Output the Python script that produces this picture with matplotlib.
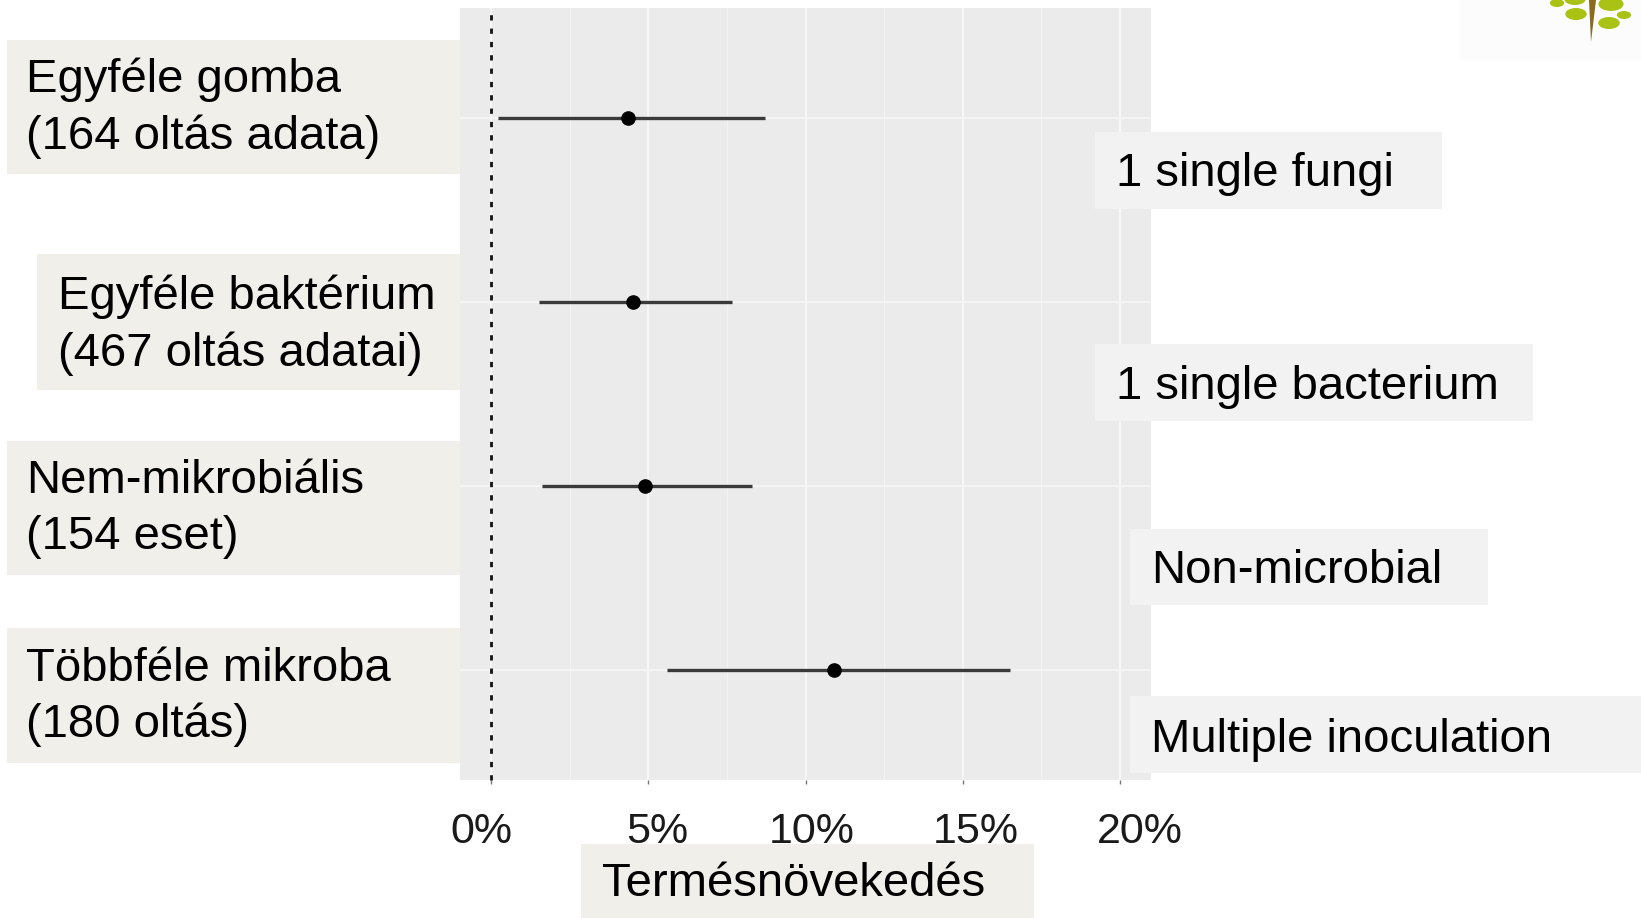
import matplotlib
matplotlib.use("Agg")
import matplotlib.pyplot as plt
from matplotlib.patches import Rectangle, Circle, Polygon
from matplotlib.transforms import ScaledTranslation

plt.rcParams["font.family"] = ["Liberation Sans", "DejaVu Sans"]

# adatok (alulról felfelé, ahogy a tengelyen állnak)
groups = ["Többféle mikroba", "Nem-mikrobiális", "Egyféle baktérium", "Egyféle gomba"]
estimate = [10.9, 4.9, 4.5, 4.35]
ci_low = [5.6, 1.6, 1.5, 0.2]
ci_high = [16.5, 8.3, 7.65, 8.7]
x_ticks = [0, 5, 10, 15, 20]
x_minor = [2.5, 7.5, 12.5, 17.5]
x_ticklabels = ["0%", "5%", "10%", "15%", "20%"]

left_labels = ["Egyféle gomba\n(164 oltás adata)",
               "Egyféle baktérium\n(467 oltás adatai)",
               "Nem-mikrobiális\n(154 eset)",
               "Többféle mikroba\n(180 oltás)"]
right_labels = ["1 single fungi", "1 single bacterium", "Non-microbial", "Multiple inoculation"]
xlabel = "Termésnövekedés"

W, H = 1641, 918
fig = plt.figure(figsize=(W / 100, H / 100), dpi=100)
fig.patch.set_facecolor("white")

# ggplot-szerű panel
ax = fig.add_axes([460 / W, 1 - 780 / H, 691 / W, 772 / H])
ax.set_facecolor("#EBEBEB")
for s in ax.spines.values():
    s.set_visible(False)
ax.set_xlim(-1, 21)
ax.set_ylim(0.4, 4.6)

ypos = list(range(1, len(groups) + 1))
for x in x_minor:
    ax.axvline(x, color="#F4F4F4", lw=0.7, zorder=0)
for x in x_ticks:
    ax.axvline(x, color="#FAFAFA", lw=1.2, zorder=0)
for y in ypos:
    ax.axhline(y, color="#F7F7F7", lw=1.1, zorder=0)

ax.axvline(0, color="#111111", lw=2.0, linestyle=(0, (1.9, 2.9)), zorder=2, clip_on=False)

ax.hlines(ypos, ci_low, ci_high, color="#3a3a3a", lw=2.4, zorder=3)
ax.plot(estimate, ypos, "o", color="black", ms=9.5, zorder=4)

ax.set_yticks([])
ax.set_xticks(x_ticks)
ax.set_xticklabels(x_ticklabels, fontsize=31, color="#1a1a1a")
ax.tick_params(axis="x", length=3, width=1, color="#777777", pad=20)
label_shift = [-10, 9, 6, 13, 20]
for lab, dx in zip(ax.get_xticklabels(), label_shift):
    lab.set_transform(lab.get_transform() + ScaledTranslation(dx / 100, 0, fig.dpi_scale_trans))


def box(x0, y0, x1, y1, color):
    fig.add_artist(Rectangle((x0 / W, 1 - y1 / H), (x1 - x0) / W, (y1 - y0) / H,
                             transform=fig.transFigure, facecolor=color,
                             edgecolor="none", zorder=2))


def label(x, y, txt, size=34):
    fig.text(x / W, 1 - y / H, txt, fontsize=size, ha="left", va="center",
             color="black", zorder=3, linespacing=1.36)


# bal oldali dobozok
left_boxes = [(7, 40, 460, 174, 26, 108), (37, 254, 460, 390, 58, 325),
              (7, 441, 460, 575, 26, 509), (7, 628, 460, 763, 26, 697)]
for (x0, y0, x1, y1, tx, ty), txt in zip(left_boxes, left_labels):
    box(x0, y0, x1, y1, "#F0EFE9")
    label(tx, ty, txt)

# jobb oldali dobozok
right_boxes = [(1095, 132, 1442, 209, 1116, 174), (1095, 344, 1533, 421, 1116, 387),
               (1130, 529, 1488, 605, 1151, 571), (1130, 696, 1641, 773, 1151, 740)]
for (x0, y0, x1, y1, tx, ty), txt in zip(right_boxes, right_labels):
    box(x0, y0, x1, y1, "#F2F2F2")
    label(tx, ty, txt)

# tengelycím
box(581, 844, 1034, 918, "#F0EFE9")
label(602, 884, xlabel)

# logó töredék a jobb felső sarokban
box(1460, 0, 1641, 60, "#FCFCFC")
for cx, cy, r in [(1557, 3, 4), (1575, -1, 6), (1576, 14, 6), (1611, 4, 7), (1624, 15, 4), (1609, 23, 6)]:
    fig.add_artist(Circle((cx / W, 1 - cy / H), r / H, transform=fig.transFigure,
                          facecolor="#A9C214", edgecolor="none", zorder=3))
fig.add_artist(Polygon([(1589 / W, 1.0), (1596 / W, 1.0), (1591 / W, 1 - 42 / H)],
                       closed=True, transform=fig.transFigure, facecolor="#8B6B1E",
                       edgecolor="none", zorder=3))

fig.savefig("out.png", dpi=100)
